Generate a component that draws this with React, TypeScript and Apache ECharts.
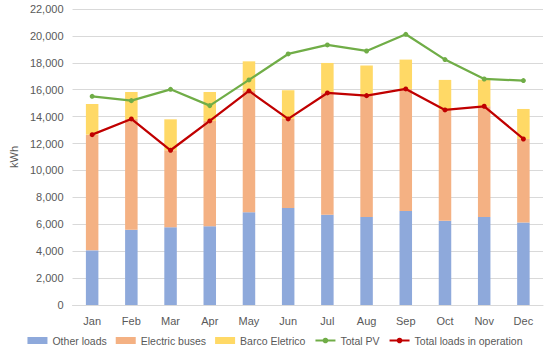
import React, { useEffect, useRef } from "react";
import * as echarts from "echarts";

const months = ["Jan", "Feb", "Mar", "Apr", "May", "Jun", "Jul", "Aug", "Sep", "Oct", "Nov", "Dec"];
const otherLoads = [4060, 5600, 5770, 5850, 6890, 7210, 6710, 6540, 6990, 6270, 6540, 6140];
const electricBuses = [8600, 8230, 5730, 7830, 9020, 6620, 9050, 9020, 9070, 8230, 8230, 6200];
const barcoEletrico = [2280, 2000, 2300, 2150, 2200, 2130, 2230, 2240, 2180, 2230, 1980, 2230];
const totalPV = [15510, 15190, 16030, 14820, 16730, 18660, 19330, 18880, 20120, 18240, 16800, 16680];
const totalLoads = [12660, 13830, 11500, 13680, 15910, 13830, 15760, 15560, 16060, 14500, 14770, 12340];

const FONT = "'Liberation Sans', Arial, sans-serif";
const TXT = "#595959";

export default function App() {
  const ref = useRef<HTMLDivElement>(null);
  useEffect(() => {
    const chart = echarts.init(ref.current!, null, { renderer: "svg" });
    const barW = 12.5;
    chart.setOption({
      animation: false,
      textStyle: { fontFamily: FONT },
      grid: { left: 61, right: 7, top: 9, bottom: 49, containLabel: false },
      legend: {
        bottom: 3,
        left: "center",
        width: 545,
        itemWidth: 20,
        itemHeight: 7,
        itemGap: 9,
        textStyle: { color: TXT, fontSize: 10.5, fontFamily: FONT },
        data: [
          { name: "Other loads", icon: "rect" },
          { name: "Electric buses", icon: "rect" },
          { name: "Barco Eletrico", icon: "rect" },
          { name: "Total PV" },
          { name: "Total loads in operation" },
        ],
      },
      xAxis: {
        type: "category",
        data: months,
        axisLine: { show: true, lineStyle: { color: "#D9D9D9" } },
        axisTick: { show: false },
        axisLabel: { color: TXT, fontSize: 11, margin: 10, fontFamily: FONT },
      },
      yAxis: {
        type: "value",
        min: 0,
        max: 22000,
        interval: 2000,
        name: "kWh",
        nameLocation: "middle",
        nameGap: 47,
        nameTextStyle: { color: TXT, fontSize: 11, fontFamily: FONT },
        axisLine: { show: false },
        axisTick: { show: false },
        splitLine: { lineStyle: { color: "#D9D9D9", width: 1 } },
        axisLabel: {
          color: TXT,
          fontSize: 11,
          margin: 9,
          fontFamily: FONT,
          formatter: (v: number) => v.toLocaleString("en-US"),
        },
      },
      series: [
        { name: "Other loads", type: "bar", stack: "s", data: otherLoads, barWidth: barW, itemStyle: { color: "#8EA9DB" } },
        { name: "Electric buses", type: "bar", stack: "s", data: electricBuses, barWidth: barW, itemStyle: { color: "#F4B183" } },
        { name: "Barco Eletrico", type: "bar", stack: "s", data: barcoEletrico, barWidth: barW, itemStyle: { color: "#FFD966" } },
        {
          name: "Total PV",
          type: "line",
          data: totalPV,
          symbol: "circle",
          symbolSize: 5,
          lineStyle: { color: "#70AD47", width: 2.25 },
          itemStyle: { color: "#70AD47" },
        },
        {
          name: "Total loads in operation",
          type: "line",
          data: totalLoads,
          symbol: "circle",
          symbolSize: 5,
          lineStyle: { color: "#C00000", width: 2.25 },
          itemStyle: { color: "#C00000" },
        },
      ],
    });
    return () => chart.dispose();
  }, []);
  return <div ref={ref} style={{ width: 550, height: 354, position: "absolute", left: 0, top: 0 }} />;
}
